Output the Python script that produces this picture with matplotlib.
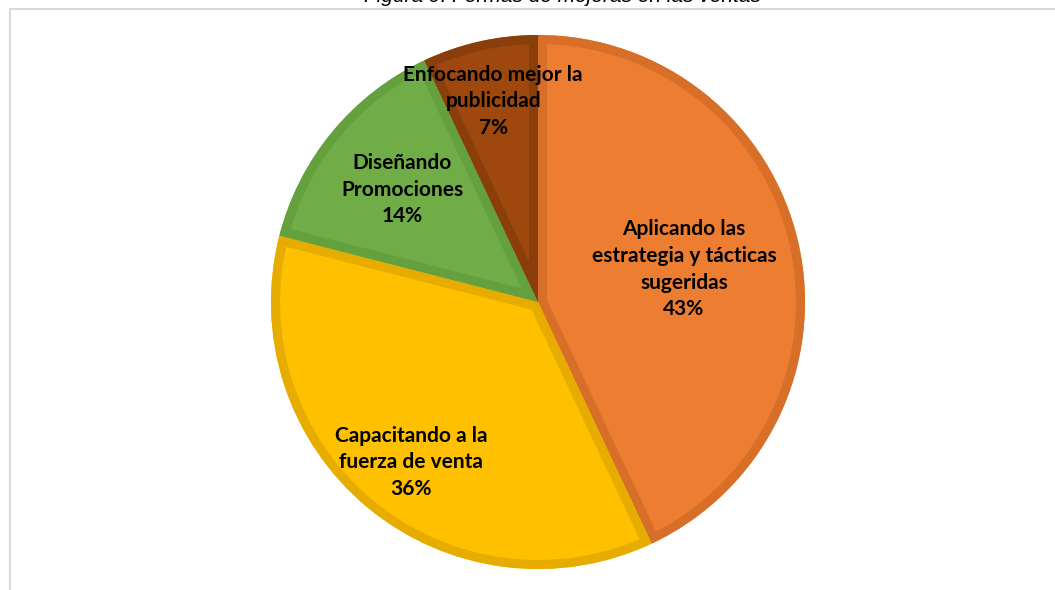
import matplotlib
matplotlib.use("Agg")
import matplotlib.pyplot as plt
from matplotlib.patches import Rectangle, Wedge
import numpy as np

# categories and shares
labels = ["Aplicando las\nestrategia y tácticas\nsugeridas",
          "Capacitando a la\nfuerza de venta",
          "Diseñando\nPromociones",
          "Enfocando mejor la\npublicidad"]
values = [43, 36, 14, 7]

colors = ["#ED7D31", "#FFC000", "#70AD47", "#9E480E"]
rims = ["#D86F29", "#E6AC00", "#64A03D", "#8A3E0C"]
explode = [0, 0.022, 0, 0]
label_r = [0.56, 0.78, 0.66, 0.77]

W, H = 1055, 590
fig = plt.figure(figsize=(W / 100, H / 100), dpi=100)
ax = fig.add_axes([0, 0, 1, 1])

cx, cy, R = 538, H - 302, 267
wedges, _ = ax.pie(values, colors=colors, explode=explode, startangle=90,
                   counterclock=False, center=(cx, cy), radius=R,
                   wedgeprops=dict(linewidth=0))

ax.set_xlim(0, W)
ax.set_ylim(0, H)
ax.set_aspect("equal")
ax.axis("off")

# chart frame (runs off right and bottom)
ax.add_patch(Rectangle((10, -20), W + 20, H - 9 + 20, fill=False,
                       edgecolor="#d9d9d9", linewidth=1.5))

# darker inner rim on every slice
for w, rc in zip(wedges, rims):
    rim = Wedge(w.center, w.r, w.theta1, w.theta2, facecolor="none",
                edgecolor=rc, linewidth=13)
    ax.add_patch(rim)
    rim.set_clip_path(w)

# labels at the middle angle of each slice
for w, lab, v, f in zip(wedges, labels, values, label_r):
    ang = np.deg2rad((w.theta1 + w.theta2) / 2)
    x = cx + f * R * np.cos(ang) + (6 if v == 36 else 0)
    y = cy + f * R * np.sin(ang)
    ax.text(x, y, f"{lab}\n{v}%", ha="center", va="center",
            fontsize=15, fontweight="bold", family="Lato",
            color="black", linespacing=1.42)

fig.text(562 / W, 1 - 2 / H, "Figura 9: Formas de mejoras en las ventas",
         ha="center", va="baseline", fontsize=15, style="italic",
         family="Liberation Sans")

fig.savefig("out.png", dpi=100)
